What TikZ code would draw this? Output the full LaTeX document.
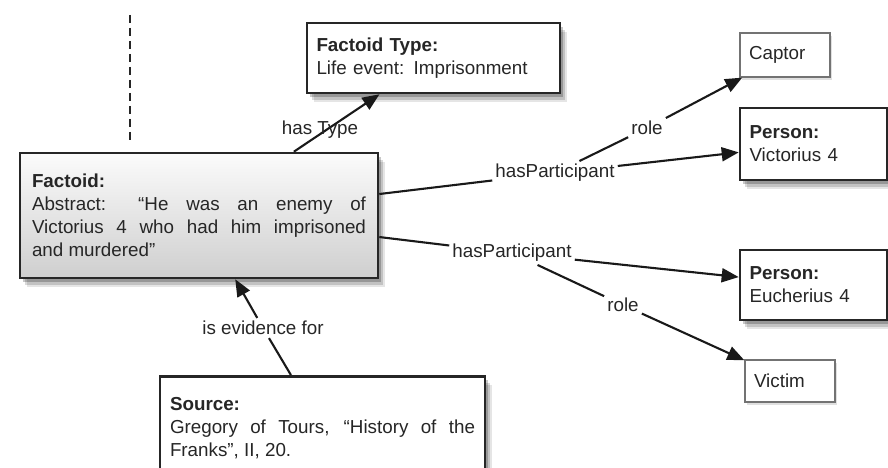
\documentclass[tikz,border=0pt]{standalone}
\usepackage{fontspec}
\setmainfont{Liberation Sans}
\usetikzlibrary{arrows.meta,shadows}
\begin{document}
\begin{tikzpicture}[x=1pt,y=-1pt,
  every node/.style={font=\fontsize{18.8}{23}\selectfont, text=black!85},
  softshadow/.style={
    drop shadow={shadow xshift=7pt, shadow yshift=-9pt, opacity=0.10, fill=black},
    drop shadow={shadow xshift=5pt, shadow yshift=-7pt, opacity=0.15, fill=black},
    drop shadow={shadow xshift=3pt, shadow yshift=-4pt, opacity=0.22, fill=black}},
  thickbox/.style={draw=black!85, line width=2.6pt, rectangle, inner sep=0pt, fill=white, softshadow},
  thinbox/.style={draw=black!55, line width=1.3pt, rectangle, inner sep=0pt, fill=white,
    drop shadow={shadow xshift=2pt, shadow yshift=-3pt, opacity=0.12, fill=black}},
  lbl/.style={inner sep=3pt},
  conn/.style={draw=black!90, line width=2.1pt},
  arr/.style={conn, -{Triangle[length=17pt,width=14pt]}},
]
\useasboundingbox (0,0) rectangle (888,468);
\fill[white] (0,0) rectangle (888,468);

% dashed line
\coordinate (d1) at (130,15);
\coordinate (d2) at (130,140);
\draw[black!85, line width=2.4pt, dash pattern=on 8pt off 5pt] (d1) -- (d2);

% boxes
\node[thickbox, top color=gray!3, bottom color=gray!38, minimum width=358pt, minimum height=125pt,
  text width=334pt, align=justify] (fac) at (199,215.5)
  {\hyphenpenalty=10000 \textbf{Factoid:}\\ Abstract: “He was an enemy of\linebreak Victorius 4 who had him imprisoned\linebreak and murdered”};

\node[thickbox, minimum width=253pt, minimum height=70pt, text width=234pt, align=left] (ftype) at (433.5,58)
  {\textbf{Factoid Type:}\\ Life event: Imprisonment};

\node[thinbox, minimum width=90pt, minimum height=44pt, text width=72pt, align=left] (captor) at (785,55) {Captor};

\node[thickbox, minimum width=147pt, minimum height=72pt, text width=128pt, align=left] (pv) at (813.5,144)
  {\textbf{Person:}\\ Victorius 4};

\node[thickbox, minimum width=147pt, minimum height=70pt, text width=128pt, align=left] (pe) at (813.5,285)
  {\textbf{Person:}\\ Eucherius 4};

\node[thinbox, minimum width=90pt, minimum height=42pt, text width=72pt, align=left] (victim) at (790,381) {Victim};

\node[thickbox, anchor=north, minimum width=325pt, minimum height=104pt, text width=305pt, align=justify] (src) at (322.5,375)
  {\hyphenpenalty=10000 \textbf{Source:}\\ Gregory of Tours, “History of the\linebreak Franks”, II, 20.};

% labels
\node[lbl] (hp1) at (555,173) {hasParticipant};
\node[lbl] (role1) at (647,128) {role};
\node[lbl] (hp2) at (512,253) {hasParticipant};
\node[lbl] (role2) at (623,305) {role};
\node[lbl] (evid) at (263,328) {is evidence for};

% connectors
\draw[arr] (fac) -- (ftype);
\node[inner sep=0pt] (htype) at (320,130) {has Type};

\draw[conn] (fac) -- (hp1);
\draw[arr] (hp1) -- (pv);
\draw[conn] (hp1) -- (role1);
\draw[arr] (role1) -- (captor);

\draw[conn] (fac) -- (hp2);
\draw[arr] (hp2) -- (pe);
\draw[conn] (hp2) -- (role2);
\draw[arr] (role2) -- (victim);

\draw[conn] (src) -- (evid);
\draw[arr] (evid) -- (fac);
\end{tikzpicture}
\end{document}
